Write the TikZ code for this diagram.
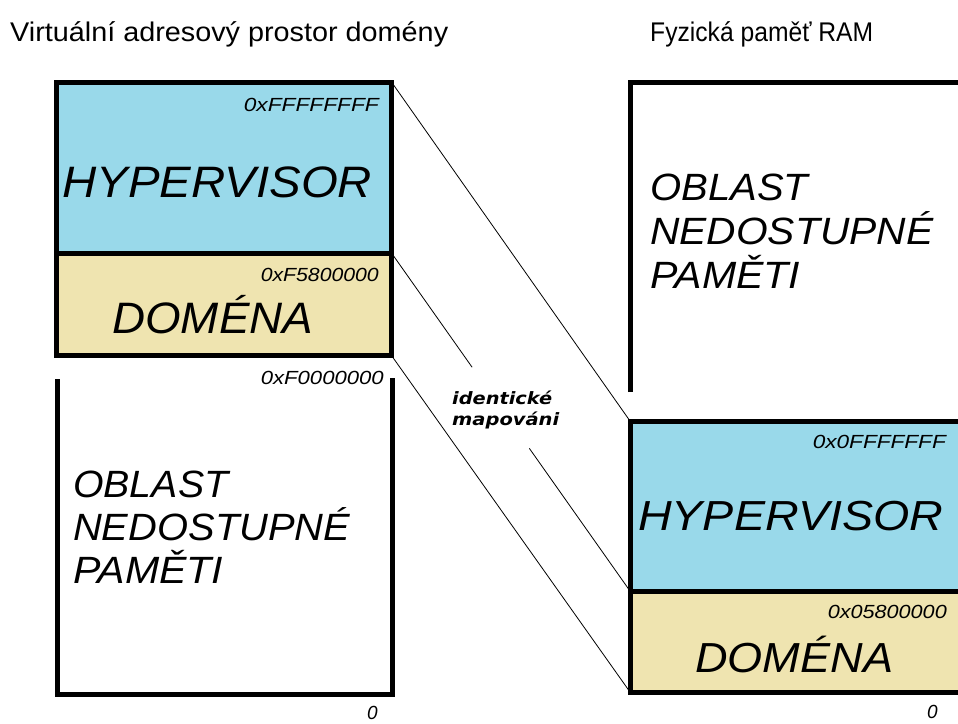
\documentclass[tikz,border=0pt]{standalone}
\usepackage{fontspec}
\setmainfont{Liberation Sans}
\newfontfamily\mapfont{DejaVu Sans}
\usetikzlibrary{calc}
\definecolor{hypblue}{RGB}{153,217,234}
\definecolor{domtan}{RGB}{239,228,176}
% stretch a text horizontally to a given width, keeping its height
\newcommand\fitto[2]{\resizebox{#1}{\height}{#2}}

\begin{document}
\begin{tikzpicture}[x=1pt,y=-1pt,
  wall/.style={line width=5pt, line join=miter},
  memblock/.style={draw, line width=5pt, inner sep=0pt, outer sep=0pt, anchor=north west},
  link/.style={line width=0.8pt},
  bigA/.style={font=\fontsize{44}{44}\selectfont\itshape, inner sep=0pt, anchor=base west},
  bigB/.style={font=\fontsize{42}{42}\selectfont\itshape, inner sep=0pt, anchor=base west},
  area/.style={font=\fontsize{38}{38}\selectfont\itshape, inner sep=0pt, anchor=base west},
  hex/.style={font=\fontsize{19}{19}\selectfont\itshape, inner sep=0pt, anchor=base east},
  heading/.style={font=\fontsize{27}{27}\selectfont, inner sep=0pt, anchor=base west},
  maplbl/.style={font=\fontsize{17}{17}\selectfont\mapfont\bfseries\itshape, inner sep=0pt, anchor=base west},
]
\useasboundingbox (0,0) rectangle (958,723);
\clip (0,0) rectangle (958,723);

% headings
\node[heading] (ttl) at (10,41) {\fitto{438pt}{Virtuální adresový prostor domény}};
\node[heading] (ttr) at (650,41) {\fitto{223pt}{Fyzická paměť RAM}};

% virtual address space of the domain
\node[memblock, fill=hypblue, minimum width=335pt, minimum height=171pt] (lhyp) at (56.5,82) {};
\node[memblock, fill=domtan, minimum width=335pt, minimum height=102.5pt] (ldom) at (56.5,253) {};
\draw[wall] (57,379) -- (57,694) -- (392,694) -- (392,378);

% physical RAM
\draw[wall] (630,392) -- (630,82) -- (975,82);
\node[memblock, fill=hypblue, minimum width=345pt, minimum height=170pt] (rhyp) at (630,421) {};
\node[memblock, fill=domtan, minimum width=345pt, minimum height=101pt] (rdom) at (630,591) {};

% identity mapping
\draw[link] (lhyp.north east) -- (rhyp.north west);
\draw[link] (lhyp.south east) -- ($(lhyp.south east)!0.338!(rhyp.south west)$);
\draw[link] ($(lhyp.south east)!0.578!(rhyp.south west)$) -- (rhyp.south west);
\draw[link] (ldom.south east) -- (rdom.south west);
\node[maplbl] (map1) at (452,404) {\fitto{100pt}{identické}};
\node[maplbl] (map2) at (452,425) {\fitto{107pt}{mapováni}};

% left labels
\node[hex] (h1) at (379,111) {\fitto{135pt}{0xFFFFFFFF}};
\node[bigA] (lh) at (62,197) {\fitto{310pt}{HYPERVISOR}};
\node[hex] (h2) at (379,281) {\fitto{118pt}{0xF5800000}};
\node[bigA] (ld) at (112,333) {\fitto{201pt}{DOMÉNA}};
\node[hex] (h3) at (384,384) {\fitto{123pt}{0xF0000000}};
\node[area] (lo1) at (73,497) {\fitto{155pt}{OBLAST}};
\node[area] (lo2) at (73,540) {\fitto{277pt}{NEDOSTUPNÉ}};
\node[area] (lo3) at (73,583) {\fitto{150pt}{PAMĚTI}};
\node[hex] (z1) at (378,719) {0};

% right labels
\node[area] (ro1) at (650,200) {\fitto{158pt}{OBLAST}};
\node[area] (ro2) at (650,244) {\fitto{283pt}{NEDOSTUPNÉ}};
\node[area] (ro3) at (650,288) {\fitto{150pt}{PAMĚTI}};
\node[hex] (h4) at (946,448) {\fitto{133pt}{0x0FFFFFFF}};
\node[bigB] (rh) at (638,530) {\fitto{305pt}{HYPERVISOR}};
\node[hex] (h5) at (947,618) {\fitto{119pt}{0x05800000}};
\node[bigB] (rd) at (695,672) {\fitto{198pt}{DOMÉNA}};
\node[hex] (z2) at (938,718) {0};
\end{tikzpicture}
\end{document}
